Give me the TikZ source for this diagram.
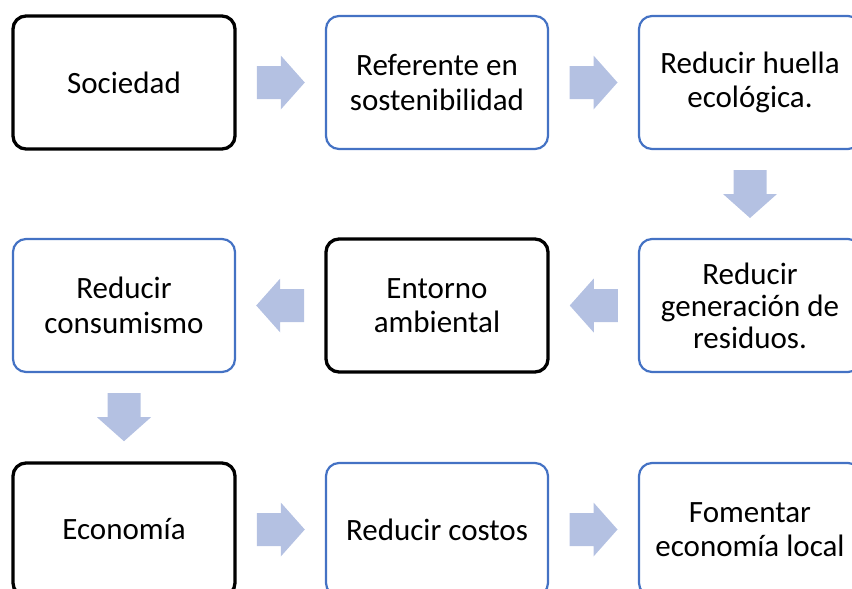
\documentclass[tikz,border=0pt]{standalone}
\usepackage{fontspec}
\setmainfont{Carlito}
\usetikzlibrary{calc}

\definecolor{azulborde}{RGB}{68,114,196}
\definecolor{azulflecha}{RGB}{180,193,226}

\tikzset{
  caja/.style={rectangle, rounded corners=13pt, minimum width=222pt, minimum height=133pt,
    align=center, fill=white, inner sep=0pt, font=\fontsize{31}{34.5}\selectfont},
  cajaazul/.style={caja, draw=azulborde, line width=2.2pt},
  cajanegra/.style={caja, draw=black, line width=3.3pt},
  flecha/.pic={\fill[azulflecha] (-24,-16.5) -- (0,-16.5) -- (0,-27) -- (24,0)
    -- (0,27) -- (0,16.5) -- (-24,16.5) -- cycle;}
}

\begin{document}
\begin{tikzpicture}[x=1pt, y=-1pt]
    \clip (0,0) rectangle (852,589);

    % Fila superior
    \node[cajanegra] (sociedad) at (124,82.5) {Sociedad};
    \node[cajaazul] (referente) at (437,82.5) {Referente en\\sostenibilidad};
    \node[cajaazul] (huella) at (750,82.5) {Reducir huella\\ecológica.};

    % Fila central
    \node[cajaazul, font=\fontsize{31}{32}\selectfont] (residuos) at (750,305.5)
        {Reducir\\generación de\\residuos.};
    \node[cajanegra] (entorno) at (437,305.5) {Entorno\\ambiental};
    \node[cajaazul] (consumismo) at (124,305.5) {Reducir\\consumismo};

    % Fila inferior
    \node[cajanegra] (economia) at (124,529.5) {Economía};
    \node[cajaazul] (costos) at (437,529.5) {Reducir costos};
    \node[cajaazul] (local) at (750,529.5) {Fomentar\\economía local};

    % Flechas
    \pic at ($(sociedad.east)!0.5!(referente.west)$) {flecha};
    \pic at ($(referente.east)!0.5!(huella.west)$) {flecha};
    \pic[rotate=-90] at ($(huella.south)!0.5!(residuos.north)$) {flecha};
    \pic[rotate=180] at ($(residuos.west)!0.5!(entorno.east)$) {flecha};
    \pic[rotate=180] at ($(entorno.west)!0.5!(consumismo.east)$) {flecha};
    \pic[rotate=-90] at ($(consumismo.south)!0.5!(economia.north)$) {flecha};
    \pic at ($(economia.east)!0.5!(costos.west)$) {flecha};
    \pic at ($(costos.east)!0.5!(local.west)$) {flecha};
\end{tikzpicture}
\end{document}
